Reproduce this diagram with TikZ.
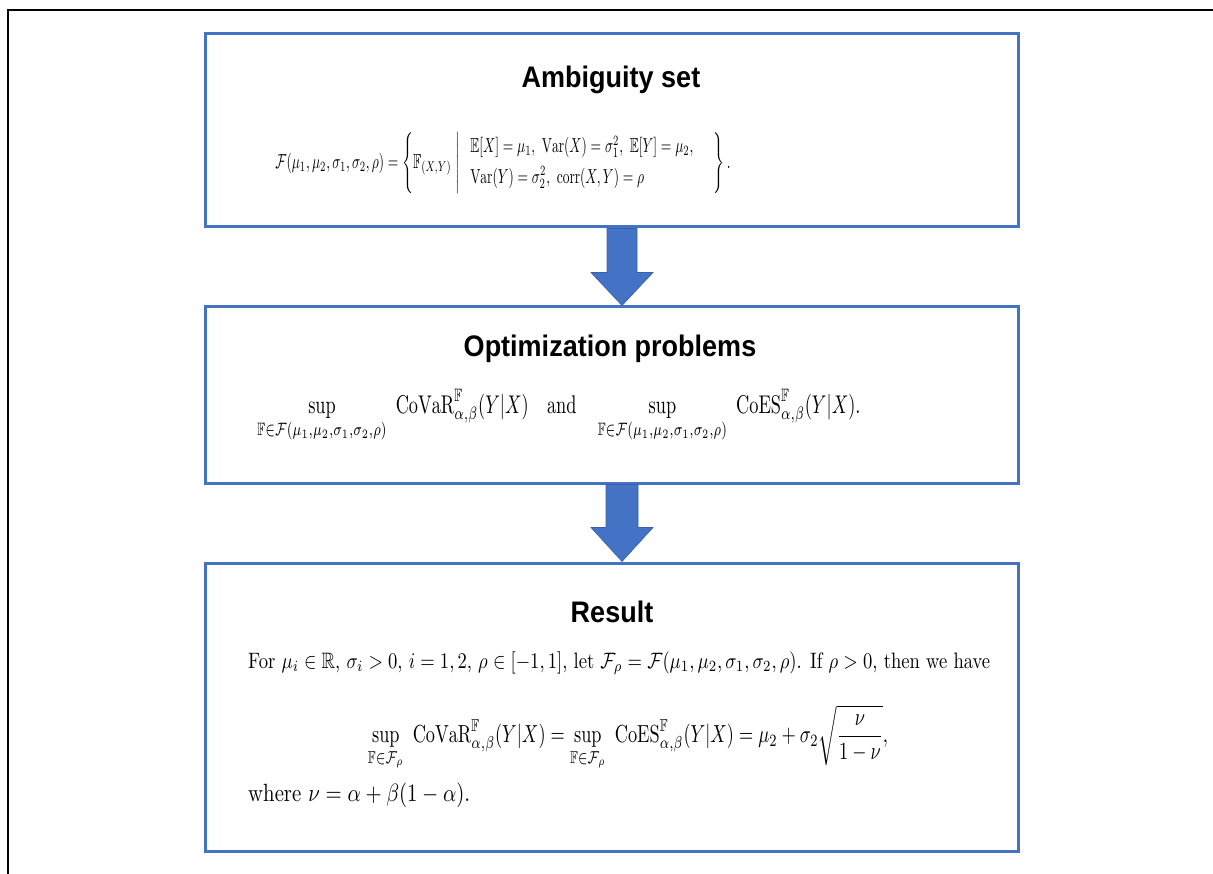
\documentclass[tikz,border=0pt]{standalone}
\usepackage{amsmath,amssymb}
\usepackage{graphicx}
\usepackage{fontspec}
\setsansfont{Liberation Sans}
\usetikzlibrary{calc}
\definecolor{boxblue}{HTML}{4472C4}
\tikzset{
  panel/.style={draw=boxblue, line width=3pt, fill=white, inner sep=0pt},
  title/.style={font=\sffamily\bfseries\fontsize{27}{32}\selectfont, inner sep=0pt},
  formula/.style={inner sep=0pt},
  bigarrow/.style={fill=boxblue, draw=boxblue!85!black, line width=0.6pt},
  frame/.style={draw=black, line width=2.5pt}
}
\begin{document}
\begin{tikzpicture}[x=1pt,y=-1pt]
\useasboundingbox (0,0) rectangle (1213,874);
\fill[white] (0,0) rectangle (1213,874);
\draw[frame] (1213,10) -- (8,10) -- (8,874);
% panels
\node[panel, minimum width=813pt, minimum height=193pt] (b1) at (611.5,130.5) {};
\node[panel, minimum width=813pt, minimum height=176pt] (b2) at (611.5,395) {};
\node[panel, minimum width=813pt, minimum height=288pt] (b3) at (611.5,707) {};
% titles
\node[title] (t1) at (611,80) {\scalebox{1}[1.1]{Ambiguity set}};
\node[title] (t2) at (610,349) {\scalebox{1}[1.1]{Optimization problems}};
\node[title] (t3) at (612,612) {\scalebox{1}[1.1]{Result}};
% formulas
\node[formula] (f1) at (503,163) {\scalebox{1}[1.5]{\resizebox{455pt}{!}{$\displaystyle
\mathcal{F}(\mu_1,\mu_2,\sigma_1,\sigma_2,\rho)=\left\{\mathbb{F}_{(X,Y)}\;\middle|\;\begin{array}{l}\mathbb{E}[X]=\mu_1,\ \mathrm{Var}(X)=\sigma_1^2,\ \mathbb{E}[Y]=\mu_2,\\[3pt] \mathrm{Var}(Y)=\sigma_2^2,\ \mathrm{corr}(X,Y)=\rho\end{array}\quad\right\}.$}}};
\node[formula] (f2) at (559,416) {\scalebox{1}[1.4]{\resizebox{603pt}{!}{$\displaystyle
\sup_{\mathbb{F}\in\mathcal{F}(\mu_1,\mu_2,\sigma_1,\sigma_2,\rho)}\ \mathrm{CoVaR}^{\mathbb{F}}_{\alpha,\beta}(Y|X)\quad\text{and}\quad\sup_{\mathbb{F}\in\mathcal{F}(\mu_1,\mu_2,\sigma_1,\sigma_2,\rho)}\ \mathrm{CoES}^{\mathbb{F}}_{\alpha,\beta}(Y|X).$}}};
\node[formula, anchor=west] (f3) at (248,663) {\scalebox{1}[1.2]{\resizebox{742pt}{!}{For $\mu_i\in\mathbb{R}$, $\sigma_i>0$, $i=1,2$, $\rho\in[-1,1]$, let $\mathcal{F}_\rho=\mathcal{F}(\mu_1,\mu_2,\sigma_1,\sigma_2,\rho)$. If $\rho>0$, then we have}}};
\node[formula] (f4) at (628,738) {\scalebox{1}[1.35]{\resizebox{520pt}{!}{$\displaystyle
\sup_{\mathbb{F}\in\mathcal{F}_\rho}\ \mathrm{CoVaR}^{\mathbb{F}}_{\alpha,\beta}(Y|X)=\sup_{\mathbb{F}\in\mathcal{F}_\rho}\ \mathrm{CoES}^{\mathbb{F}}_{\alpha,\beta}(Y|X)=\mu_2+\sigma_2\sqrt{\frac{\nu}{1-\nu}},$}}};
\node[formula, anchor=west] (f5) at (248,795) {\scalebox{1}[1.2]{\resizebox{222pt}{!}{where $\nu=\alpha+\beta(1-\alpha)$.}}};
% arrows
\coordinate (a1s) at (622,228.5);
\coordinate (a1e) at (622,305.5);
\coordinate (a2s) at (622,484.5);
\coordinate (a2e) at (622,561.5);
\draw[bigarrow] (a1s) ++(-15,0) -- ++(0,44) -- ++(-16,0) -- (a1e) -- ($(a1s)+(31,44)$) -- ++(-16,0) -- ++(0,-44) -- cycle;
\draw[bigarrow] (a2s) ++(-16,0) -- ++(0,43) -- ++(-15,0) -- (a2e) -- ($(a2s)+(31,43)$) -- ++(-15,0) -- ++(0,-43) -- cycle;
\end{tikzpicture}
\end{document}
